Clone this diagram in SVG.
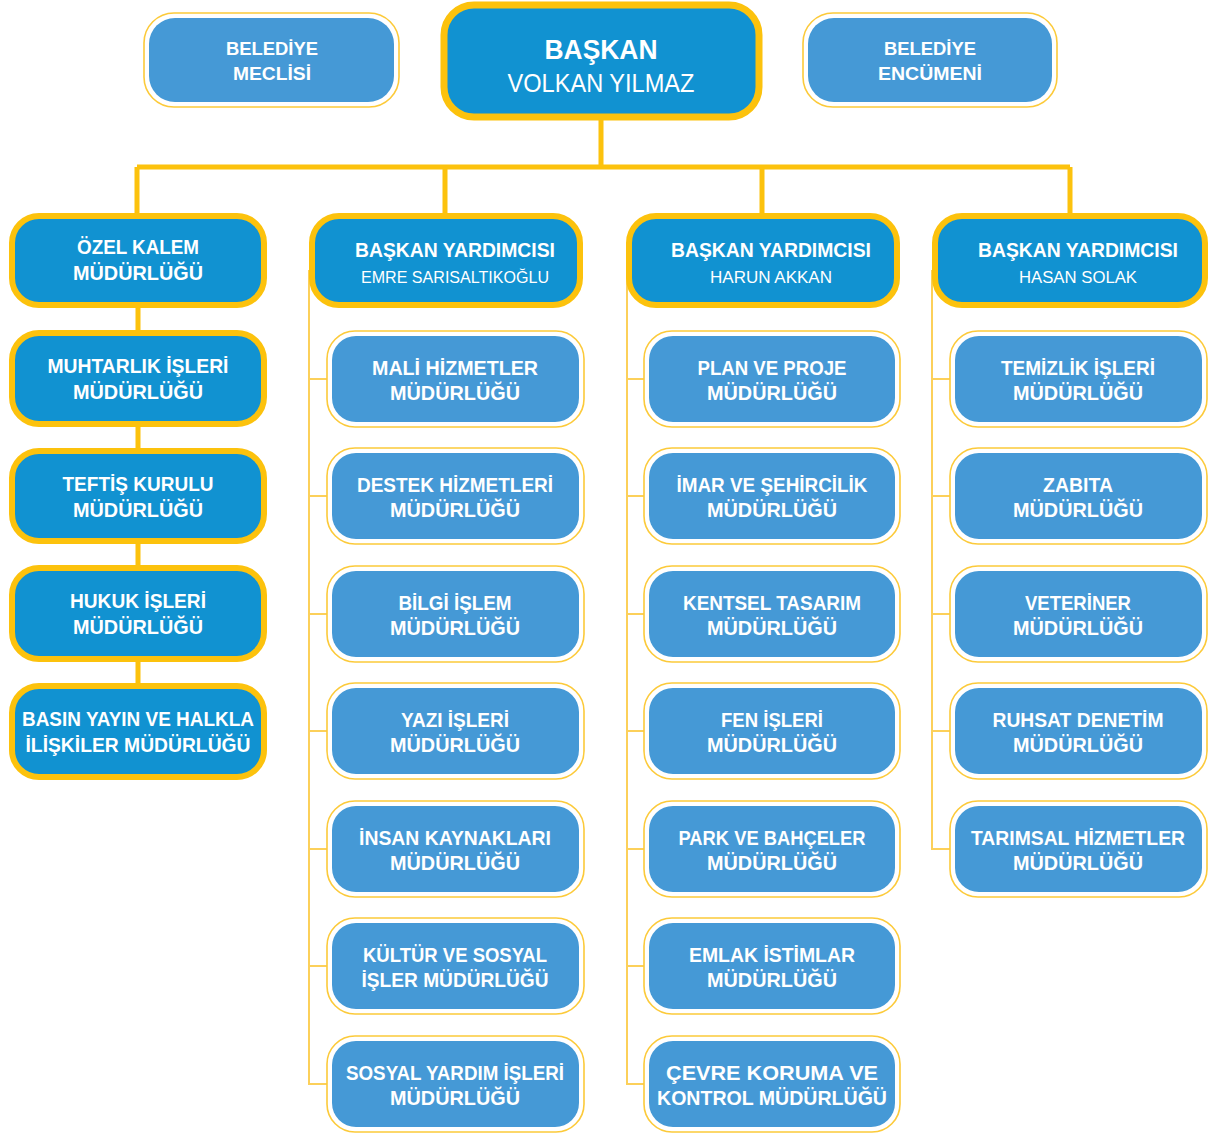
<svg xmlns="http://www.w3.org/2000/svg" width="1215" height="1135" viewBox="0 0 1215 1135">
<style>
.bg{fill:#ffffff}
.main{fill:#1192d1;stroke:#fcc20d;stroke-width:6}
.ring{fill:#ffffff;stroke:#fcca3a;stroke-width:1.6}
.sub{fill:#4599d6}
.thick{fill:none;stroke:#fcc20d;stroke-width:5}
.thin{fill:none;stroke:#fcd05a;stroke-width:2}
text{font-family:"Liberation Sans",Arial,sans-serif;fill:#ffffff;text-anchor:middle}
.b{font-weight:bold;font-size:20px}
.bs{font-weight:bold;font-size:19px}
.n{font-size:17px}
.big{font-weight:bold;font-size:27px}
.name{font-size:25px}
</style>
<rect class="bg" x="0" y="0" width="1215" height="1135"/>
<g id="connectors">
<path class="thick" d="M601 118 V167 M137 167 H1070 M137 167 V214 M445 167 V214 M762 167 V214 M1070 167 V214 M138 300 V690"/>
<path class="thin" d="M309 270 V1085 M309 379 H327 M309 496 H327 M309 614 H327 M309 731 H327 M309 849 H327 M309 966 H327 M309 1084 H327"/>
<path class="thin" d="M627 270 V1085 M627 379 H644 M627 496 H644 M627 614 H644 M627 731 H644 M627 849 H644 M627 966 H644 M627 1084 H644"/>
<path class="thin" d="M932 270 V850 M932 379 H950 M932 496 H950 M932 614 H950 M932 731 H950 M932 849 H950"/>
</g>
<g id="baskan"><rect class="main" x="444" y="5" width="315" height="112" rx="30" style="stroke-width:7"/><text class="big" x="601" y="59" textLength="113" lengthAdjust="spacingAndGlyphs">BAŞKAN</text><text class="name" x="601" y="92" textLength="187" lengthAdjust="spacingAndGlyphs">VOLKAN YILMAZ</text></g>
<g id="meclis"><rect class="ring" x="144" y="13" width="255" height="94" rx="30"/><rect class="sub" x="149" y="18" width="245" height="84" rx="26"/><text class="bs" x="272" y="55" textLength="92" lengthAdjust="spacingAndGlyphs">BELEDİYE</text><text class="bs" x="272" y="80" textLength="78" lengthAdjust="spacingAndGlyphs">MECLİSİ</text></g>
<g id="encumen"><rect class="ring" x="803" y="13" width="254" height="94" rx="30"/><rect class="sub" x="808" y="18" width="244" height="84" rx="26"/><text class="bs" x="930" y="55" textLength="92" lengthAdjust="spacingAndGlyphs">BELEDİYE</text><text class="bs" x="930" y="80" textLength="104" lengthAdjust="spacingAndGlyphs">ENCÜMENİ</text></g>
<g id="ozel-kalem"><rect class="main" x="12" y="216" width="252" height="89" rx="27"/><text class="b" x="138" y="254" textLength="122" lengthAdjust="spacingAndGlyphs">ÖZEL KALEM</text><text class="b" x="138" y="280" textLength="130" lengthAdjust="spacingAndGlyphs">MÜDÜRLÜĞÜ</text></g>
<g id="muhtarlik"><rect class="main" x="12" y="333" width="252" height="91" rx="27"/><text class="b" x="138" y="373" textLength="181" lengthAdjust="spacingAndGlyphs">MUHTARLIK İŞLERİ</text><text class="b" x="138" y="399" textLength="130" lengthAdjust="spacingAndGlyphs">MÜDÜRLÜĞÜ</text></g>
<g id="teftis"><rect class="main" x="12" y="451" width="252" height="90" rx="27"/><text class="b" x="138" y="491" textLength="151" lengthAdjust="spacingAndGlyphs">TEFTİŞ KURULU</text><text class="b" x="138" y="517" textLength="130" lengthAdjust="spacingAndGlyphs">MÜDÜRLÜĞÜ</text></g>
<g id="hukuk"><rect class="main" x="12" y="568" width="252" height="91" rx="27"/><text class="b" x="138" y="608" textLength="136" lengthAdjust="spacingAndGlyphs">HUKUK İŞLERİ</text><text class="b" x="138" y="634" textLength="130" lengthAdjust="spacingAndGlyphs">MÜDÜRLÜĞÜ</text></g>
<g id="basin"><rect class="main" x="12" y="686" width="252" height="91" rx="27"/><text class="b" x="138" y="726" textLength="232" lengthAdjust="spacingAndGlyphs">BASIN YAYIN VE HALKLA</text><text class="b" x="138" y="752" textLength="225" lengthAdjust="spacingAndGlyphs">İLİŞKİLER MÜDÜRLÜĞÜ</text></g>
<g id="by-emre"><rect class="main" x="312" y="216" width="268" height="89" rx="27"/><text class="b" x="455" y="257" textLength="200" lengthAdjust="spacingAndGlyphs">BAŞKAN YARDIMCISI</text><text class="n" x="455" y="283" textLength="188" lengthAdjust="spacingAndGlyphs">EMRE SARISALTIKOĞLU</text></g>
<g id="by-harun"><rect class="main" x="629" y="216" width="268" height="89" rx="27"/><text class="b" x="771" y="257" textLength="200" lengthAdjust="spacingAndGlyphs">BAŞKAN YARDIMCISI</text><text class="n" x="771" y="283" textLength="122" lengthAdjust="spacingAndGlyphs">HARUN AKKAN</text></g>
<g id="by-hasan"><rect class="main" x="935" y="216" width="270" height="89" rx="27"/><text class="b" x="1078" y="257" textLength="200" lengthAdjust="spacingAndGlyphs">BAŞKAN YARDIMCISI</text><text class="n" x="1078" y="283" textLength="118" lengthAdjust="spacingAndGlyphs">HASAN SOLAK</text></g>
<g id="mali"><rect class="ring" x="327" y="331" width="257" height="96" rx="28"/><rect class="sub" x="332" y="336" width="247" height="86" rx="24"/><text class="b" x="455" y="375" textLength="166" lengthAdjust="spacingAndGlyphs">MALİ HİZMETLER</text><text class="b" x="455" y="400" textLength="130" lengthAdjust="spacingAndGlyphs">MÜDÜRLÜĞÜ</text></g>
<g id="destek"><rect class="ring" x="327" y="448" width="257" height="96" rx="28"/><rect class="sub" x="332" y="453" width="247" height="86" rx="24"/><text class="b" x="455" y="492" textLength="196" lengthAdjust="spacingAndGlyphs">DESTEK HİZMETLERİ</text><text class="b" x="455" y="517" textLength="130" lengthAdjust="spacingAndGlyphs">MÜDÜRLÜĞÜ</text></g>
<g id="bilgi"><rect class="ring" x="327" y="566" width="257" height="96" rx="28"/><rect class="sub" x="332" y="571" width="247" height="86" rx="24"/><text class="b" x="455" y="610" textLength="113" lengthAdjust="spacingAndGlyphs">BİLGİ İŞLEM</text><text class="b" x="455" y="635" textLength="130" lengthAdjust="spacingAndGlyphs">MÜDÜRLÜĞÜ</text></g>
<g id="yazi"><rect class="ring" x="327" y="683" width="257" height="96" rx="28"/><rect class="sub" x="332" y="688" width="247" height="86" rx="24"/><text class="b" x="455" y="727" textLength="108" lengthAdjust="spacingAndGlyphs">YAZI İŞLERİ</text><text class="b" x="455" y="752" textLength="130" lengthAdjust="spacingAndGlyphs">MÜDÜRLÜĞÜ</text></g>
<g id="insan"><rect class="ring" x="327" y="801" width="257" height="96" rx="28"/><rect class="sub" x="332" y="806" width="247" height="86" rx="24"/><text class="b" x="455" y="845" textLength="192" lengthAdjust="spacingAndGlyphs">İNSAN KAYNAKLARI</text><text class="b" x="455" y="870" textLength="130" lengthAdjust="spacingAndGlyphs">MÜDÜRLÜĞÜ</text></g>
<g id="kultur"><rect class="ring" x="327" y="918" width="257" height="96" rx="28"/><rect class="sub" x="332" y="923" width="247" height="86" rx="24"/><text class="b" x="455" y="962" textLength="184" lengthAdjust="spacingAndGlyphs">KÜLTÜR VE SOSYAL</text><text class="b" x="455" y="987" textLength="187" lengthAdjust="spacingAndGlyphs">İŞLER MÜDÜRLÜĞÜ</text></g>
<g id="sosyal"><rect class="ring" x="327" y="1036" width="257" height="96" rx="28"/><rect class="sub" x="332" y="1041" width="247" height="86" rx="24"/><text class="b" x="455" y="1080" textLength="218" lengthAdjust="spacingAndGlyphs">SOSYAL YARDIM İŞLERİ</text><text class="b" x="455" y="1105" textLength="130" lengthAdjust="spacingAndGlyphs">MÜDÜRLÜĞÜ</text></g>
<g id="plan"><rect class="ring" x="644" y="331" width="256" height="96" rx="28"/><rect class="sub" x="649" y="336" width="246" height="86" rx="24"/><text class="b" x="772" y="375" textLength="149" lengthAdjust="spacingAndGlyphs">PLAN VE PROJE</text><text class="b" x="772" y="400" textLength="130" lengthAdjust="spacingAndGlyphs">MÜDÜRLÜĞÜ</text></g>
<g id="imar"><rect class="ring" x="644" y="448" width="256" height="96" rx="28"/><rect class="sub" x="649" y="453" width="246" height="86" rx="24"/><text class="b" x="772" y="492" textLength="191" lengthAdjust="spacingAndGlyphs">İMAR VE ŞEHİRCİLİK</text><text class="b" x="772" y="517" textLength="130" lengthAdjust="spacingAndGlyphs">MÜDÜRLÜĞÜ</text></g>
<g id="kentsel"><rect class="ring" x="644" y="566" width="256" height="96" rx="28"/><rect class="sub" x="649" y="571" width="246" height="86" rx="24"/><text class="b" x="772" y="610" textLength="178" lengthAdjust="spacingAndGlyphs">KENTSEL TASARIM</text><text class="b" x="772" y="635" textLength="130" lengthAdjust="spacingAndGlyphs">MÜDÜRLÜĞÜ</text></g>
<g id="fen"><rect class="ring" x="644" y="683" width="256" height="96" rx="28"/><rect class="sub" x="649" y="688" width="246" height="86" rx="24"/><text class="b" x="772" y="727" textLength="102" lengthAdjust="spacingAndGlyphs">FEN İŞLERİ</text><text class="b" x="772" y="752" textLength="130" lengthAdjust="spacingAndGlyphs">MÜDÜRLÜĞÜ</text></g>
<g id="park"><rect class="ring" x="644" y="801" width="256" height="96" rx="28"/><rect class="sub" x="649" y="806" width="246" height="86" rx="24"/><text class="b" x="772" y="845" textLength="187" lengthAdjust="spacingAndGlyphs">PARK VE BAHÇELER</text><text class="b" x="772" y="870" textLength="130" lengthAdjust="spacingAndGlyphs">MÜDÜRLÜĞÜ</text></g>
<g id="emlak"><rect class="ring" x="644" y="918" width="256" height="96" rx="28"/><rect class="sub" x="649" y="923" width="246" height="86" rx="24"/><text class="b" x="772" y="962" textLength="166" lengthAdjust="spacingAndGlyphs">EMLAK İSTİMLAR</text><text class="b" x="772" y="987" textLength="130" lengthAdjust="spacingAndGlyphs">MÜDÜRLÜĞÜ</text></g>
<g id="cevre"><rect class="ring" x="644" y="1036" width="256" height="96" rx="28"/><rect class="sub" x="649" y="1041" width="246" height="86" rx="24"/><text class="b" x="772" y="1080" textLength="212" lengthAdjust="spacingAndGlyphs">ÇEVRE KORUMA VE</text><text class="b" x="772" y="1105" textLength="230" lengthAdjust="spacingAndGlyphs">KONTROL MÜDÜRLÜĞÜ</text></g>
<g id="temizlik"><rect class="ring" x="950" y="331" width="257" height="96" rx="28"/><rect class="sub" x="955" y="336" width="247" height="86" rx="24"/><text class="b" x="1078" y="375" textLength="154" lengthAdjust="spacingAndGlyphs">TEMİZLİK İŞLERİ</text><text class="b" x="1078" y="400" textLength="130" lengthAdjust="spacingAndGlyphs">MÜDÜRLÜĞÜ</text></g>
<g id="zabita"><rect class="ring" x="950" y="448" width="257" height="96" rx="28"/><rect class="sub" x="955" y="453" width="247" height="86" rx="24"/><text class="b" x="1078" y="492" textLength="70" lengthAdjust="spacingAndGlyphs">ZABITA</text><text class="b" x="1078" y="517" textLength="130" lengthAdjust="spacingAndGlyphs">MÜDÜRLÜĞÜ</text></g>
<g id="veteriner"><rect class="ring" x="950" y="566" width="257" height="96" rx="28"/><rect class="sub" x="955" y="571" width="247" height="86" rx="24"/><text class="b" x="1078" y="610" textLength="106" lengthAdjust="spacingAndGlyphs">VETERİNER</text><text class="b" x="1078" y="635" textLength="130" lengthAdjust="spacingAndGlyphs">MÜDÜRLÜĞÜ</text></g>
<g id="ruhsat"><rect class="ring" x="950" y="683" width="257" height="96" rx="28"/><rect class="sub" x="955" y="688" width="247" height="86" rx="24"/><text class="b" x="1078" y="727" textLength="171" lengthAdjust="spacingAndGlyphs">RUHSAT DENETİM</text><text class="b" x="1078" y="752" textLength="130" lengthAdjust="spacingAndGlyphs">MÜDÜRLÜĞÜ</text></g>
<g id="tarimsal"><rect class="ring" x="950" y="801" width="257" height="96" rx="28"/><rect class="sub" x="955" y="806" width="247" height="86" rx="24"/><text class="b" x="1078" y="845" textLength="214" lengthAdjust="spacingAndGlyphs">TARIMSAL HİZMETLER</text><text class="b" x="1078" y="870" textLength="130" lengthAdjust="spacingAndGlyphs">MÜDÜRLÜĞÜ</text></g>
</svg>
